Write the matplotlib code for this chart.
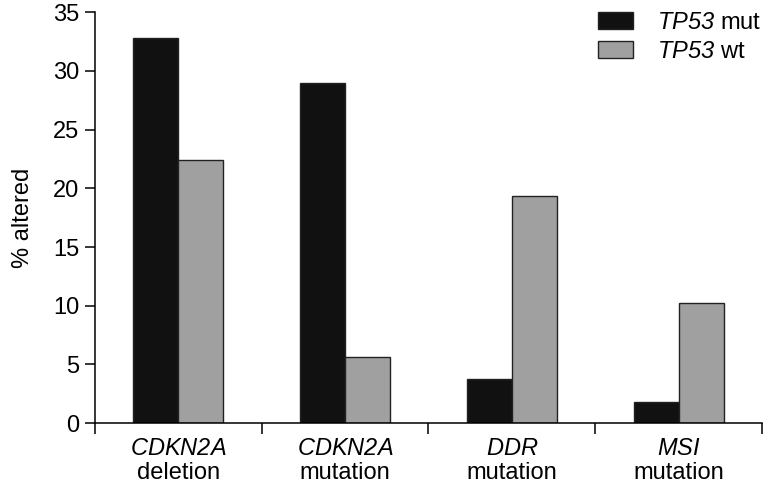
import matplotlib
matplotlib.use("Agg")
import matplotlib.pyplot as plt
import numpy as np
from matplotlib.patches import Patch

plt.rcParams['font.family'] = ['Liberation Sans', 'DejaVu Sans']
plt.rcParams['mathtext.fontset'] = 'custom'
plt.rcParams['mathtext.rm'] = 'Liberation Sans'
plt.rcParams['mathtext.it'] = 'Liberation Sans:italic'
# bf slot mapped to italic so digits are italic too
plt.rcParams['mathtext.bf'] = 'Liberation Sans:italic'

cat_top = ["CDKN2A", "CDKN2A", "DDR", "MSI"]
cat_bottom = ["deletion", "mutation", "mutation", "mutation"]
tp53_mut = [32.8, 29.0, 3.75, 1.8]
tp53_wt = [22.45, 5.6, 19.35, 10.25]
yticks = [0, 5, 10, 15, 20, 25, 30, 35]

FS = 17

fig = plt.figure(figsize=(7.65, 4.87), dpi=100)
ax = fig.add_axes([0.124, 0.131, 0.872, 0.844])

x = np.arange(len(cat_top))
w = 0.27
ax.bar(x - w / 2, tp53_mut, w, color='#111111', edgecolor='#222222', linewidth=1.0)
ax.bar(x + w / 2, tp53_wt, w, color='#a0a0a0', edgecolor='#222222', linewidth=1.0)

ax.set_xlim(-0.5, len(cat_top) - 0.5)
ax.set_ylim(0, 35)
ax.set_yticks(yticks)
ax.tick_params(axis='y', direction='out', length=7, width=1.1, labelsize=FS, pad=4)

ax.set_xticks(np.arange(-0.5, len(cat_top), 1.0), minor=True)
ax.set_xticks(x)
ax.set_xticklabels(["$\\mathbf{" + t + "}$\n" + b for t, b in zip(cat_top, cat_bottom)],
                   linespacing=1.1)
ax.tick_params(axis='x', which='major', length=0, labelsize=FS, pad=11)
ax.tick_params(axis='x', which='minor', direction='out', length=8, width=1.1)

for s in ['top', 'right']:
    ax.spines[s].set_visible(False)
for s in ['left', 'bottom']:
    ax.spines[s].set_linewidth(1.1)

ax.set_ylabel('% altered', fontsize=FS, labelpad=14)

handles = [Patch(facecolor='#111111', edgecolor='#222222'),
           Patch(facecolor='#a0a0a0', edgecolor='#222222')]
ax.legend(handles, ["$\\mathbf{TP53}$ mut", "$\\mathbf{TP53}$ wt"], loc='upper right',
          bbox_to_anchor=(1.02, 1.035), frameon=False, fontsize=FS,
          handlelength=1.5, handleheight=0.75, handletextpad=1.0, labelspacing=0.3,
          borderaxespad=0.2)

fig.savefig('out.png', dpi=100)
